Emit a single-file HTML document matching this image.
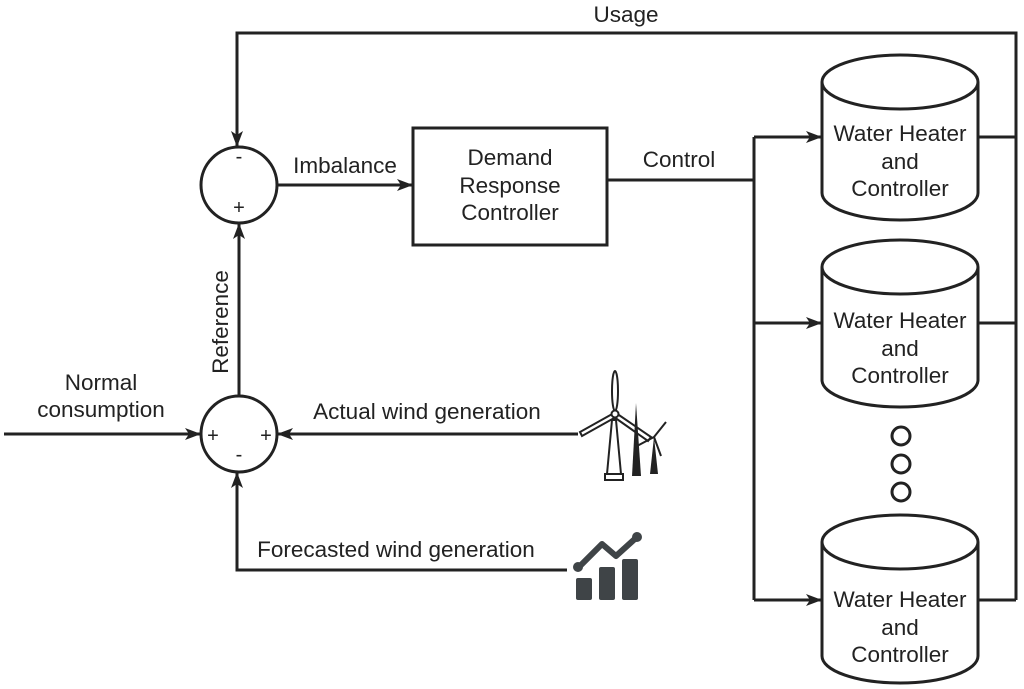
<!DOCTYPE html>
<html><head><meta charset="utf-8"><style>
html,body{margin:0;padding:0;background:#fff;}
svg{display:block;}
text{font-family:"Liberation Sans",Arial,sans-serif;fill:#222;}
</style></head><body>
<svg width="1024" height="689" viewBox="0 0 1024 689" xmlns="http://www.w3.org/2000/svg">
<defs>
<marker id="a" viewBox="0 0 16 12" refX="15" refY="6" markerWidth="16" markerHeight="12" markerUnits="userSpaceOnUse" orient="auto">
<path d="M0,0 L16,6 L0,12 L4,6 Z" fill="#222"/>
</marker>
</defs>
<g stroke="#222" stroke-width="3" fill="none">
<polyline points="978,137 1016,137 1016,33 237,33 237,146" marker-end="url(#a)"/>
<line x1="978" y1="323" x2="1016" y2="323"/>
<line x1="978" y1="600" x2="1016" y2="600"/>
<line x1="1016" y1="33" x2="1016" y2="600"/>
<circle cx="239" cy="185" r="38"/>
<circle cx="239" cy="434" r="38"/>
<line x1="277" y1="185" x2="412" y2="185" marker-end="url(#a)"/>
<rect x="413" y="128" width="194" height="117"/>
<polyline points="607,180 754,180"/>
<line x1="754" y1="137" x2="754" y2="600"/>
<line x1="754" y1="137" x2="821" y2="137" marker-end="url(#a)"/>
<line x1="754" y1="323" x2="821" y2="323" marker-end="url(#a)"/>
<line x1="754" y1="600" x2="821" y2="600" marker-end="url(#a)"/>
<line x1="239" y1="396" x2="239" y2="224" marker-end="url(#a)"/>
<line x1="4" y1="434" x2="200" y2="434" marker-end="url(#a)"/>
<line x1="578" y1="434" x2="278" y2="434" marker-end="url(#a)"/>
<polyline points="567,570 237,570 237,473" marker-end="url(#a)"/>
<path d="M822,82 A78,27 0 0 1 978,82 L978,193 A78,27 0 0 1 822,193 Z"/>
<path d="M822,82 A78,27 0 0 0 978,82"/>
<path d="M822,267 A78,27 0 0 1 978,267 L978,380 A78,27 0 0 1 822,380 Z"/>
<path d="M822,267 A78,27 0 0 0 978,267"/>
<path d="M822,542 A78,27 0 0 1 978,542 L978,656 A78,27 0 0 1 822,656 Z"/>
<path d="M822,542 A78,27 0 0 0 978,542"/>
<circle cx="901" cy="436" r="9"/>
<circle cx="901" cy="464" r="9"/>
<circle cx="901" cy="492" r="9"/>
</g>
<g stroke="#222" stroke-width="2" fill="none">
<path d="M612,420 L607,474 L621,474 L616,420 Z"/>
<rect x="605" y="474" width="18" height="6"/>
<ellipse cx="615" cy="391" rx="3" ry="20"/>
<path d="M614,413 L580,432 L582,436 L616,417 Z"/>
<path d="M616,413 L651,437 L648,441 L614,417 Z"/>
<circle cx="615" cy="414" r="3.5" fill="#fff"/>
</g>
<path d="M632,476 L636,403 L641,476 Z" fill="#222"/>
<path d="M650,474 L654,437 L658,474 Z" fill="#222"/>
<path d="M654,437 L666,422 M654,437 L661,456 M654,437 L637,446" stroke="#222" stroke-width="2"/>
<g fill="#3f4447">
<rect x="576" y="578" width="16" height="22" rx="2"/>
<rect x="599" y="567" width="16" height="33" rx="2"/>
<rect x="622" y="559" width="16" height="41" rx="2"/>
<polyline points="580,566 602,544 616,556 637,537" fill="none" stroke="#3f4447" stroke-width="6" stroke-linejoin="round"/>
<circle cx="578" cy="567" r="5"/>
<circle cx="637" cy="537" r="5"/>
</g>
<g font-size="22.5">
<text x="626" y="22" text-anchor="middle">Usage</text>
<text x="345" y="173" text-anchor="middle">Imbalance</text>
<text x="679" y="167" text-anchor="middle">Control</text>
<text x="510" y="165" text-anchor="middle">Demand</text>
<text x="510" y="193" text-anchor="middle">Response</text>
<text x="510" y="220" text-anchor="middle">Controller</text>
<text x="900" y="141" text-anchor="middle">Water Heater</text>
<text x="900" y="169" text-anchor="middle">and</text>
<text x="900" y="196" text-anchor="middle">Controller</text>
<text x="900" y="328" text-anchor="middle">Water Heater</text>
<text x="900" y="356" text-anchor="middle">and</text>
<text x="900" y="383" text-anchor="middle">Controller</text>
<text x="900" y="607" text-anchor="middle">Water Heater</text>
<text x="900" y="635" text-anchor="middle">and</text>
<text x="900" y="662" text-anchor="middle">Controller</text>
<text x="101" y="390" text-anchor="middle">Normal</text>
<text x="101" y="417" text-anchor="middle">consumption</text>
<text x="427" y="419" text-anchor="middle">Actual wind generation</text>
<text x="396" y="557" text-anchor="middle">Forecasted wind generation</text>
<text transform="translate(228,322) rotate(-90)" text-anchor="middle">Reference</text>
</g>
<g font-size="20">
<text x="239" y="163" text-anchor="middle">-</text>
<text x="239" y="214" text-anchor="middle">+</text>
<text x="213" y="442" text-anchor="middle">+</text>
<text x="266" y="442" text-anchor="middle">+</text>
<text x="239" y="461" text-anchor="middle">-</text>
</g>
</svg>
</body></html>
